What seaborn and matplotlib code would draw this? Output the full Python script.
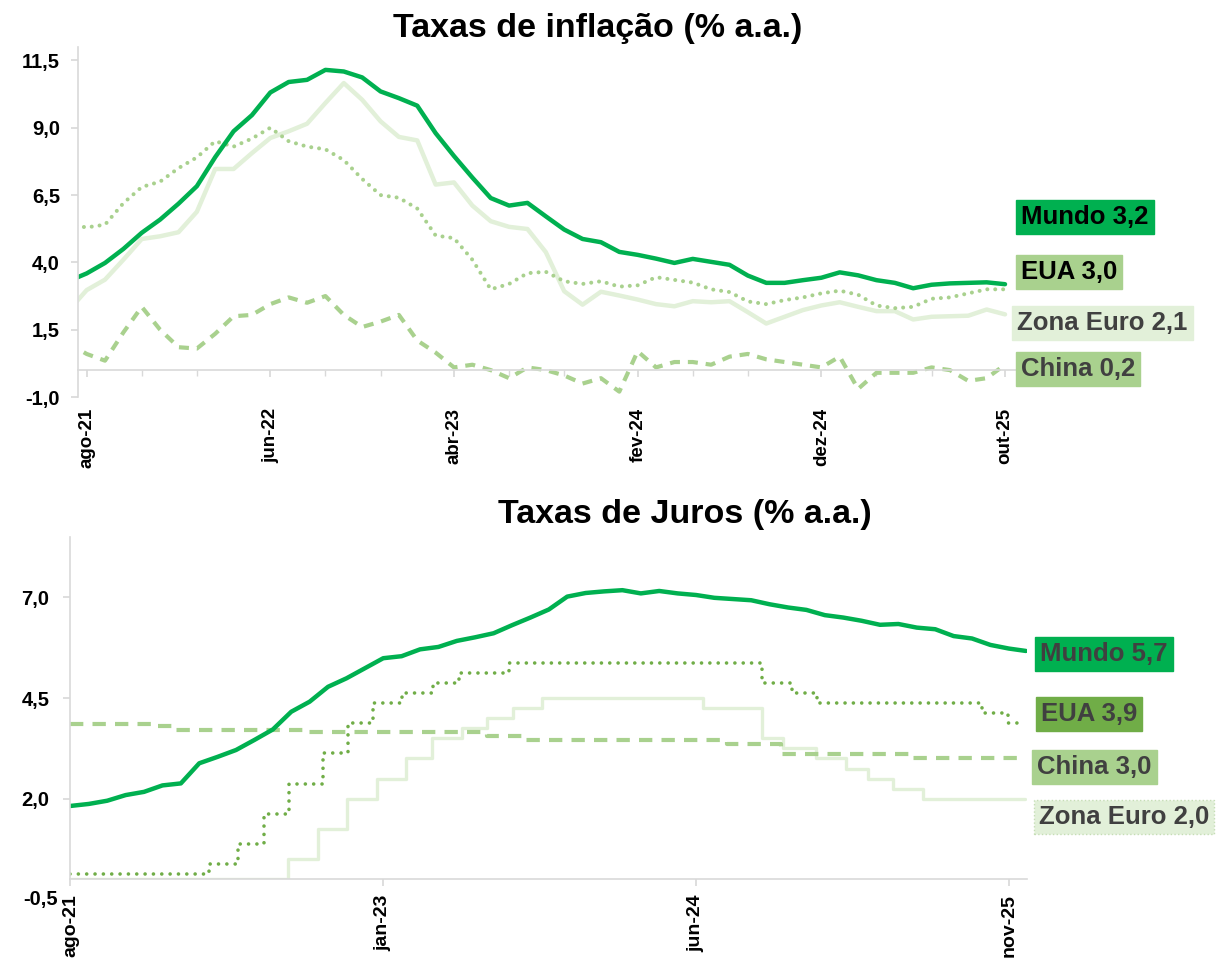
import matplotlib
matplotlib.use('Agg')
import matplotlib.pyplot as plt
import matplotlib.ticker as mticker
import pandas as pd
import seaborn as sns

# ---------------- Inflação (mensal, jul-21 .. out-25) ----------------
infl_mundo = [3.3, 3.59, 3.98, 4.50, 5.10, 5.59, 6.18, 6.83, 7.91, 8.87,
              9.47, 10.31, 10.70, 10.78, 11.15, 11.09, 10.87, 10.35, 10.10, 9.82,
              8.80, 7.95, 7.15, 6.39, 6.11, 6.21, 5.71, 5.22, 4.87, 4.75,
              4.39, 4.28, 4.14, 3.98, 4.13, 4.02, 3.91, 3.51, 3.24, 3.24,
              3.34, 3.43, 3.63, 3.52, 3.34, 3.24, 3.04, 3.17, 3.22, 3.24,
              3.26, 3.19]
infl_eua = [5.4, 5.3, 5.4, 6.2, 6.8, 7.0, 7.5, 7.9, 8.5, 8.3,
            8.6, 9.0, 8.5, 8.3, 8.2, 7.8, 7.1, 6.5, 6.4, 6.0,
            5.0, 4.9, 4.1, 3.0, 3.2, 3.6, 3.65, 3.3, 3.2, 3.3,
            3.1, 3.15, 3.45, 3.35, 3.25, 3.0, 2.9, 2.55, 2.45, 2.6,
            2.7, 2.85, 2.95, 2.8, 2.4, 2.3, 2.35, 2.65, 2.7, 2.85,
            3.0, 3.0]
infl_zona_euro = [2.2, 2.97, 3.36, 4.1, 4.87, 4.97, 5.12, 5.88, 7.47, 7.47,
                  8.06, 8.62, 8.87, 9.15, 9.92, 10.66, 10.04, 9.24, 8.66, 8.53,
                  6.89, 6.97, 6.11, 5.53, 5.32, 5.24, 4.38, 2.93, 2.43, 2.91,
                  2.77, 2.62, 2.45, 2.37, 2.56, 2.52, 2.56, 2.15, 1.73, 1.98,
                  2.23, 2.4, 2.52, 2.35, 2.19, 2.19, 1.88, 1.98, 2.0, 2.02,
                  2.25, 2.07]
infl_china = [1.0, 0.6, 0.35, 1.4, 2.35, 1.5, 0.85, 0.8, 1.35, 2.0,
              2.05, 2.45, 2.7, 2.5, 2.75, 2.05, 1.6, 1.8, 2.05, 1.1,
              0.65, 0.1, 0.2, 0.0, -0.3, 0.1, 0.0, -0.2, -0.5, -0.3,
              -0.8, 0.7, 0.1, 0.3, 0.3, 0.2, 0.5, 0.6, 0.4, 0.3,
              0.2, 0.1, 0.5, -0.7, -0.1, -0.1, -0.1, 0.1, 0.0, -0.4,
              -0.3, 0.2]
infl_tick_pos = [1, 11, 21, 31, 41, 51]
infl_tick_labels = ['ago-21', 'jun-22', 'abr-23', 'fev-24', 'dez-24', 'out-25']

# ---------------- Juros ----------------
juros_mundo_datas = list(pd.date_range('2021-08-01', '2025-11-01', freq='MS')) + [pd.Timestamp('2025-11-29')]
juros_mundo = [1.82, 1.87, 1.95, 2.09, 2.17, 2.33, 2.38, 2.88, 3.04, 3.21,
               3.46, 3.72, 4.16, 4.41, 4.78, 4.99, 5.24, 5.49, 5.54, 5.71,
               5.77, 5.92, 6.01, 6.11, 6.31, 6.50, 6.70, 7.02, 7.11, 7.15,
               7.18, 7.10, 7.16, 7.10, 7.06, 6.99, 6.96, 6.93, 6.83, 6.75,
               6.69, 6.56, 6.50, 6.42, 6.32, 6.34, 6.25, 6.21, 6.04, 5.98,
               5.82, 5.73, 5.67]

juros_eua_datas = ['2021-08-01', '2022-03-17', '2022-05-05', '2022-06-16', '2022-07-28',
                   '2022-09-22', '2022-11-03', '2022-12-15', '2023-02-02', '2023-03-23',
                   '2023-05-04', '2023-07-27', '2024-09-19', '2024-11-08', '2024-12-19',
                   '2025-09-18', '2025-10-30', '2025-11-21']
juros_eua = [0.125, 0.375, 0.875, 1.625, 2.375, 3.125, 3.875, 4.375, 4.625, 4.875,
             5.125, 5.375, 4.875, 4.625, 4.375, 4.125, 3.875, 3.875]

juros_ze_datas = ['2021-08-01', '2022-07-27', '2022-09-14', '2022-11-02', '2022-12-21',
                  '2023-02-08', '2023-03-22', '2023-05-10', '2023-06-21', '2023-08-02',
                  '2023-09-20', '2024-06-12', '2024-09-18', '2024-10-23', '2024-12-18',
                  '2025-02-05', '2025-03-12', '2025-04-23', '2025-06-11', '2025-11-28']
juros_ze = [0.0, 0.5, 1.25, 2.0, 2.5, 3.0, 3.5, 3.75, 4.0, 4.25,
            4.5, 4.25, 3.5, 3.25, 3.0, 2.75, 2.5, 2.25, 2.0, 2.0]

juros_china_datas = ['2021-08-01', '2021-12-20', '2022-01-20', '2022-08-22', '2023-06-20',
                     '2023-08-21', '2024-07-22', '2024-10-21', '2025-05-20', '2025-11-28']
juros_china = [3.85, 3.80, 3.70, 3.65, 3.55, 3.45, 3.35, 3.10, 3.00, 3.00]

juros_tick_pos = [0, 17, 34, 51]
juros_tick_labels = ['ago-21', 'jan-23', 'jun-24', 'nov-25']

VERDE = '#00B050'
VERDE_MED = '#A9D18E'
VERDE_ESC = '#70AD47'
VERDE_CLARO = '#E2F0D9'
CINZA = '#D9D9D9'
TXT = '#404040'


def meses(datas):
    # meses (fracionários) desde ago-21
    out = []
    for d in datas:
        d = pd.Timestamp(d)
        out.append((d.year - 2021) * 12 + d.month - 8 + (d.day - 1) / d.days_in_month)
    return out


def virgula(v, pos=None):
    return f'{v:.1f}'.replace('.', ',')


sns.set_theme(style='white')
plt.rcParams['font.family'] = ['Liberation Sans', 'DejaVu Sans']
plt.rcParams['font.weight'] = 'bold'
plt.rcParams['text.color'] = 'black'
plt.rcParams['xtick.color'] = 'black'
plt.rcParams['ytick.color'] = 'black'

fig = plt.figure(figsize=(12.19, 9.59), dpi=100)
ax1 = fig.add_axes([0.064, 0.586, 0.7695, 0.365])
ax2 = fig.add_axes([0.0578, 0.0832, 0.7844, 0.3568])

# ---------- painel de inflação ----------
k = list(range(len(infl_mundo)))
sns.lineplot(x=k, y=infl_china, ax=ax1, color=VERDE_MED, lw=3, linestyle=(0, (2.4, 1.9)), errorbar=None)
sns.lineplot(x=k, y=infl_zona_euro, ax=ax1, color=VERDE_CLARO, lw=3.2, errorbar=None)
sns.lineplot(x=k, y=infl_eua, ax=ax1, color=VERDE_MED, lw=2.9, linestyle=(0, (0.01, 1.95)),
             dash_capstyle='round', errorbar=None)
sns.lineplot(x=k, y=infl_mundo, ax=ax1, color=VERDE, lw=3.2, errorbar=None)

ax1.spines['bottom'].set_position(('data', 0))
ax1.set_xlim(0.53, 51.6)
ax1.set_ylim(-1, 12)
ax1.set_yticks([-1, 1.5, 4, 6.5, 9, 11.5])
ax1.yaxis.set_major_formatter(mticker.FuncFormatter(virgula))
ax1.set_xticks(infl_tick_pos)
ax1.set_xticklabels(infl_tick_labels)
ax1.set_xticks([p + d for p in infl_tick_pos[:-1] for d in (3, 6)], minor=True)
ax1.tick_params(axis='x', which='major', length=5, pad=22, labelsize=13.5, color=CINZA,
                labelrotation=90, bottom=True)
ax1.tick_params(axis='x', which='minor', length=4, color=CINZA, bottom=True)
ax1.tick_params(axis='y', length=5, pad=8, labelsize=14.5, color=CINZA, left=True)

# ---------- painel de juros ----------
sns.lineplot(x=meses(juros_ze_datas), y=juros_ze, ax=ax2, color=VERDE_CLARO, lw=2.4,
             drawstyle='steps-post', errorbar=None)
sns.lineplot(x=meses(juros_china_datas), y=juros_china, ax=ax2, color=VERDE_MED, lw=3,
             linestyle=(0, (3.2, 2.2)), drawstyle='steps-post', errorbar=None)
sns.lineplot(x=meses(juros_eua_datas), y=juros_eua, ax=ax2, color=VERDE_ESC, lw=2.6,
             linestyle=(0, (0.01, 2.3)), dash_capstyle='round', drawstyle='steps-post', errorbar=None)
sns.lineplot(x=meses(juros_mundo_datas), y=juros_mundo, ax=ax2, color=VERDE, lw=3.2,
             errorbar=None)

ax2.set_xlim(0, 51.97)
ax2.set_ylim(0, 8.5)
ax2.set_yticks([2, 4.5, 7])
ax2.yaxis.set_major_formatter(mticker.FuncFormatter(virgula))
ax2.set_xticks(juros_tick_pos)
ax2.set_xticklabels(juros_tick_labels)
ax2.tick_params(axis='x', length=5, pad=6, labelsize=14, color=CINZA, bottom=True, labelrotation=90)
ax2.tick_params(axis='y', length=5, pad=10, labelsize=14.5, color=CINZA, left=True)
ax2.text(-0.013, -0.5, virgula(-0.5), transform=ax2.get_yaxis_transform(), ha='right', va='center',
         fontsize=14.5, fontweight='bold', color='black', clip_on=False)

for ax in (ax1, ax2):
    sns.despine(ax=ax)
    for s in ('left', 'bottom'):
        ax.spines[s].set_color(CINZA)
        ax.spines[s].set_linewidth(1.2)
    ax.set_xlabel('')
    ax.set_ylabel('')
    for t in ax.get_xticklabels() + ax.get_yticklabels():
        t.set_fontweight('bold')
        t.set_color('black')

# títulos
fig.text(0.49, 1 - 29 / 959, 'Taxas de inflação (% a.a.)', ha='center', va='center',
         fontsize=24.5, fontweight='bold', color='black')
fig.text(0.562, 1 - 515 / 959, 'Taxas de Juros (% a.a.)', ha='center', va='center',
         fontsize=24.5, fontweight='bold', color='black')


def rotulo(px, py, texto, fundo, cor_txt, borda=None):
    bb = dict(boxstyle='square,pad=0.2', fc=fundo, ec=borda if borda else fundo, lw=1)
    if borda:
        bb['ls'] = ':'
    fig.text((px + 5) / 1219, 1 - py / 959, texto, ha='left', va='center', fontsize=18.5,
             fontweight='bold', color=cor_txt, bbox=bb)


rotulo(1016, 217, 'Mundo 3,2', VERDE, 'black')
rotulo(1016, 272, 'EUA 3,0', VERDE_MED, 'black')
rotulo(1012, 323, 'Zona Euro 2,1', VERDE_CLARO, TXT)
rotulo(1016, 369, 'China 0,2', VERDE_MED, TXT)

rotulo(1035, 654, 'Mundo 5,7', VERDE, TXT)
rotulo(1036, 714, 'EUA 3,9', VERDE_ESC, TXT)
rotulo(1032, 767, 'China 3,0', VERDE_MED, TXT)
rotulo(1034, 817, 'Zona Euro 2,0', VERDE_CLARO, TXT, borda='#C5DDB5')

fig.savefig('out.png', dpi=100)
